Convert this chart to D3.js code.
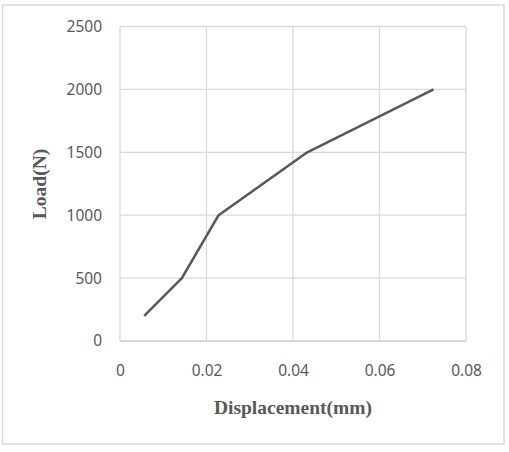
<!DOCTYPE html>
<html>
<head>
<meta charset="utf-8">
<script src="https://cdn.jsdelivr.net/npm/d3@7"></script>
<style>
  body { margin: 0; background: #fff; }
  svg { display: block; }
</style>
</head>
<body>
<div id="chart-container"></div>
<script>
// Data
const displacement = [0.0056, 0.0143, 0.0228, 0.0433, 0.0725];
const load = [200, 500, 1000, 1500, 2000];
const xTicks = [0, 0.02, 0.04, 0.06, 0.08];
const yTicks = [0, 500, 1000, 1500, 2000, 2500];

const W = 509, H = 452;
const margin = { top: 26.5, right: 43, bottom: 111, left: 120 };
const width = W - margin.left - margin.right;
const height = H - margin.top - margin.bottom;

const svg = d3.select("#chart-container")
  .append("svg")
  .attr("width", W)
  .attr("height", H);

// Outer chart border
svg.append("rect")
  .attr("x", 2.5).attr("y", 5)
  .attr("width", 501.5).attr("height", 439)
  .attr("fill", "none")
  .attr("stroke", "#d9d9d9")
  .attr("stroke-width", 1.5);

const g = svg.append("g")
  .attr("transform", `translate(${margin.left},${margin.top})`);

const xScale = d3.scaleLinear().domain([0, 0.08]).range([0, width]);
const yScale = d3.scaleLinear().domain([0, 2500]).range([height, 0]);

// Gridlines
g.append("g")
  .selectAll("line")
  .data(yTicks)
  .join("line")
  .attr("x1", 0).attr("x2", width)
  .attr("y1", d => yScale(d)).attr("y2", d => yScale(d))
  .attr("stroke", d => d === 0 ? "#c8c8c8" : "#d9d9d9")
  .attr("stroke-width", 1.3);

g.append("g")
  .selectAll("line")
  .data(xTicks)
  .join("line")
  .attr("y1", 0).attr("y2", height)
  .attr("x1", d => xScale(d)).attr("x2", d => xScale(d))
  .attr("stroke", "#d9d9d9")
  .attr("stroke-width", 1.3);

// Y axis labels
const yAxis = g.append("g")
  .attr("transform", "translate(-18,0)")
  .call(d3.axisLeft(yScale).tickValues(yTicks).tickSize(0).tickPadding(0).tickFormat(d3.format("d")));
yAxis.select(".domain").remove();
yAxis.selectAll("text")
  .attr("fill", "#595959")
  .style("font-family", "'Noto Sans', sans-serif")
  .style("font-size", "15.5px");

// X axis labels
const xAxis = g.append("g")
  .attr("transform", `translate(0,${height + 24})`)
  .call(d3.axisBottom(xScale).tickValues(xTicks).tickSize(0).tickPadding(0).tickFormat(d => d === 0 ? "0" : d3.format(".2f")(d)));
xAxis.select(".domain").remove();
xAxis.selectAll("text")
  .attr("fill", "#595959")
  .style("font-family", "'Noto Sans', sans-serif")
  .style("font-size", "15.5px");

// Line
const line = d3.line()
  .x((d, i) => xScale(displacement[i]))
  .y(d => yScale(d));

g.append("path")
  .datum(load)
  .attr("fill", "none")
  .attr("stroke", "#595959")
  .attr("stroke-width", 2.6)
  .attr("stroke-linejoin", "round")
  .attr("d", line);

// Axis titles
svg.append("text")
  .attr("x", margin.left + width / 2)
  .attr("y", 414)
  .attr("text-anchor", "middle")
  .attr("fill", "#595959")
  .style("font-family", "'Liberation Serif', 'Times New Roman', serif")
  .style("font-weight", "bold")
  .style("font-size", "19.5px")
  .text("Displacement(mm)");

svg.append("text")
  .attr("transform", `translate(46,${184}) rotate(-90)`)
  .attr("text-anchor", "middle")
  .attr("fill", "#595959")
  .style("font-family", "'Liberation Serif', 'Times New Roman', serif")
  .style("font-weight", "bold")
  .style("font-size", "19.5px")
  .text("Load(N)");
</script>
</body>
</html>
